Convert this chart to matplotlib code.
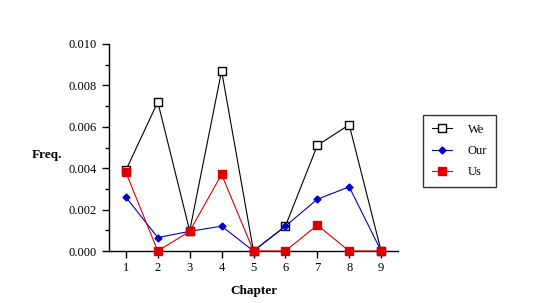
import matplotlib
matplotlib.use("Agg")
import matplotlib.pyplot as plt
from matplotlib.ticker import MultipleLocator, FormatStrFormatter

chapters = [1, 2, 3, 4, 5, 6, 7, 8, 9]
we = [0.0039, 0.0072, 0.00097, 0.0087, 0.0, 0.0012, 0.0051, 0.0061, 0.0]
our = [0.0026, 0.00065, 0.00095, 0.0012, 0.0, 0.0012, 0.0025, 0.0031, 0.0]
us = [0.0038, 0.0, 0.00095, 0.0037, 0.0, 0.0, 0.00125, 0.0, 0.0]

plt.rcParams['font.family'] = ['Liberation Serif', 'DejaVu Serif']

fig = plt.figure(figsize=(5.49, 3.03), dpi=100)
ax = fig.add_axes([0.1985, 0.1716, 0.5265, 0.6832])

ax.plot(chapters, we, color='black', lw=0.8, marker='s', ms=6, mfc='white',
        mec='black', mew=1, label='We', clip_on=False, zorder=3)
ax.plot(chapters, our, color='#0000cc', lw=0.8, marker='D', ms=3.5, mfc='#0000cc',
        mec='#0000cc', label='Our', clip_on=False, zorder=4)
ax.plot(chapters, us, color='#dd0000', lw=0.8, marker='s', ms=6, mfc='#dd0000',
        mec='#dd0000', label='Us', clip_on=False, zorder=5)

ax.set_xlim(0.47, 9.53)
ax.set_ylim(0, 0.010)
ax.set_xticks(chapters)
ax.yaxis.set_major_locator(MultipleLocator(0.002))
ax.yaxis.set_minor_locator(MultipleLocator(0.001))
ax.yaxis.set_major_formatter(FormatStrFormatter('%.3f'))
for s in ['top', 'right']:
    ax.spines[s].set_visible(False)
ax.spines['left'].set_linewidth(1)
ax.spines['bottom'].set_linewidth(1)
ax.tick_params(axis='both', which='both', direction='out', labelsize=9, width=1)
ax.tick_params(axis='both', which='major', length=5)
ax.tick_params(axis='y', which='minor', length=3)
ax.tick_params(axis='x', pad=3)

fig.text(47 / 549, 1 - 155 / 303, 'Freq.', ha='center', va='center',
         fontsize=9.5, fontweight='bold')
fig.text(254 / 549, 1 - 291 / 303, 'Chapter', ha='center', va='center',
         fontsize=9.5, fontweight='bold')

leg = ax.legend(loc='center left', bbox_to_anchor=(423 / 549, 1 - 151 / 303),
                bbox_transform=fig.transFigure, frameon=True, fancybox=False,
                edgecolor='black', fontsize=9, handlelength=1.6,
                labelspacing=0.75, borderpad=0.7, handletextpad=1.3,
                borderaxespad=0)
leg.get_frame().set_linewidth(1)

fig.savefig('out.png', dpi=100)
